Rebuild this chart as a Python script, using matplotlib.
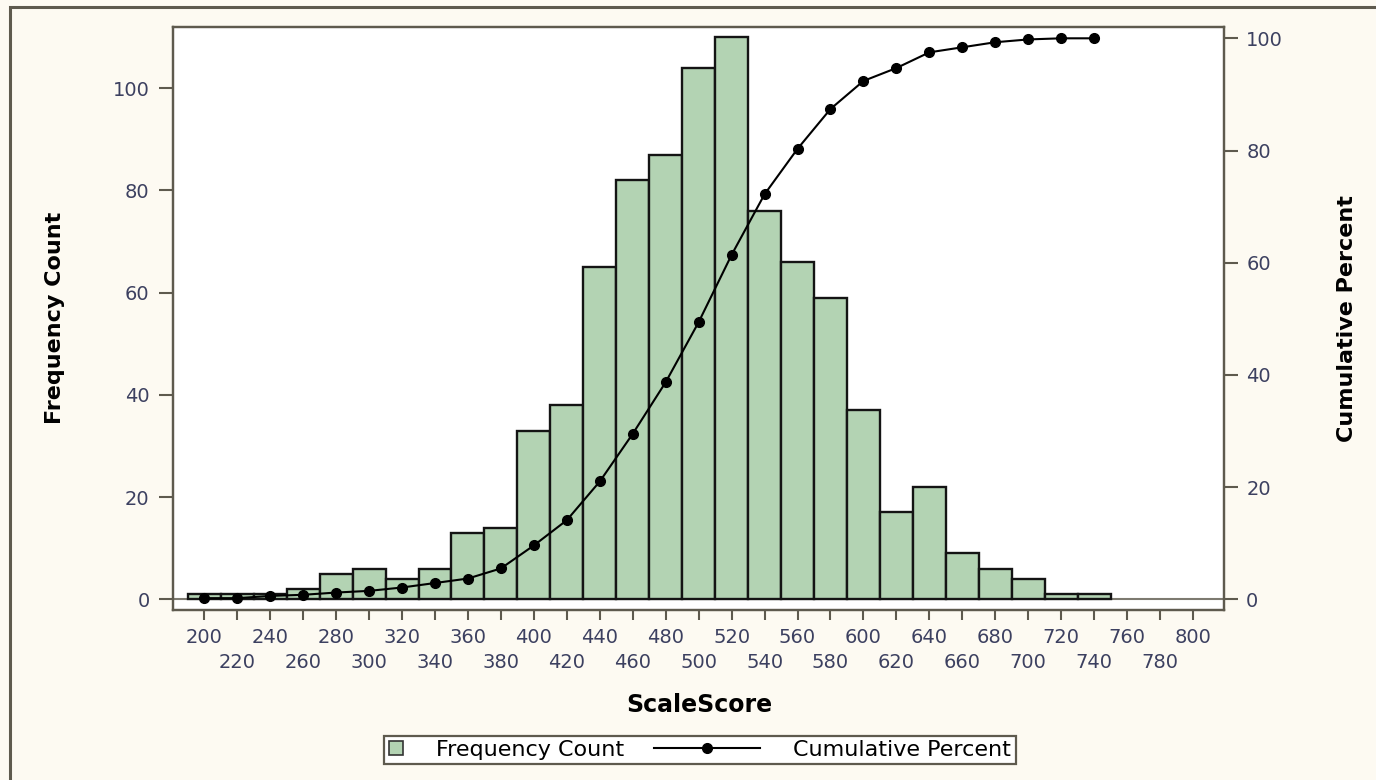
import matplotlib
matplotlib.use("Agg")
import matplotlib.pyplot as plt
from matplotlib.patches import Rectangle, Patch
from matplotlib.lines import Line2D
from matplotlib.legend_handler import HandlerBase, HandlerPatch

# bin centres of the histogram
scores = [200, 220, 240, 260, 280, 300, 320, 340, 360, 380, 400, 420, 440, 460,
          480, 500, 520, 540, 560, 580, 600, 620, 640, 660, 680, 700, 720, 740]
freq = [1, 1, 1, 2, 5, 6, 4, 6, 13, 14, 33, 38, 65, 82,
        87, 104, 110, 76, 66, 59, 37, 17, 22, 9, 6, 4, 1, 1]
cum_pct = [0.2, 0.2, 0.6, 0.8, 1.2, 1.5, 2.1, 2.9, 3.7, 5.5, 9.6, 14.1, 21.0, 29.5,
           38.7, 49.4, 61.4, 72.2, 80.3, 87.4, 92.4, 94.7, 97.5, 98.4, 99.3, 99.8, 100.0, 100.0]
# tick labels sit on two staggered rows
x_ticks_top = [200, 240, 280, 320, 360, 400, 440, 480, 520, 560, 600, 640, 680, 720, 760, 800]
x_ticks_low = [220, 260, 300, 340, 380, 420, 460, 500, 540, 580, 620, 660, 700, 740, 780]
y_ticks = [0, 20, 40, 60, 80, 100]

bg = "#fdfaf2"
axis_col = "#5e5a4e"
tick_txt = "#3c4060"
bar_col = "#b3d3b3"

plt.rcParams["font.family"] = ["DejaVu Sans"]

fig = plt.figure(figsize=(13.76, 7.8), dpi=100, facecolor=bg)
ax = fig.add_axes([173.3 / 1376, 170 / 780, 1050.7 / 1376, 583.3 / 780])
ax2 = ax.twinx()

# outer frame, cut off at right and bottom like the screenshot
fig.patches.append(Rectangle((10 / 1376, -0.1), 1.5, 1.1 - 7 / 780, transform=fig.transFigure,
                             fill=False, edgecolor=axis_col, linewidth=2.2))

ax.axhline(0, color="#7d7a70", linewidth=1.5, zorder=0.5)
ax.bar(scores, freq, width=20, color=bar_col, edgecolor="#141414", linewidth=1.7, zorder=2)
ax2.plot(scores, cum_pct, color="black", linewidth=1.5, marker="o", markersize=7, zorder=3)

ax.set_xlim(181.2, 818.8)
ax.set_ylim(-2.09, 112.05)
ax2.set_ylim(-1.91, 102.07)

ax.set_xticks(x_ticks_top, [str(t) for t in x_ticks_top])
ax.set_xticks(x_ticks_low, [str(t) for t in x_ticks_low], minor=True)
ax.set_yticks(y_ticks)
ax2.set_yticks(y_ticks)

for a in (ax, ax2):
    for s in a.spines.values():
        s.set_color(axis_col)
        s.set_linewidth(1.6)
    a.tick_params(colors=axis_col, labelcolor=tick_txt, labelsize=14, width=1.5)
ax.tick_params(axis="x", which="major", length=7, pad=6)
ax.tick_params(axis="x", which="minor", length=7, pad=24, width=1.5,
               colors=axis_col, labelcolor=tick_txt, labelsize=14)
ax.tick_params(axis="y", length=10, pad=7)
ax2.tick_params(axis="y", length=10, pad=6)

ax.set_xlabel("ScaleScore", fontsize=17, fontweight="bold")
ax.xaxis.set_label_coords(0.501, -0.142)
ax.set_ylabel("Frequency Count", fontsize=16, fontweight="bold", va="center")
ax.yaxis.set_label_coords(-0.1126, 0.5)
ax2.set_ylabel("Cumulative Percent", fontsize=16, fontweight="bold", va="center")
ax2.yaxis.set_label_coords(1.1171, 0.5)


class LongLine(HandlerBase):
    # line + dot handle that reaches to the left of its (small) handle box
    def create_artists(self, legend, orig_handle, xdescent, ydescent, width, height, fontsize, trans):
        y = (height - ydescent) / 2
        x1 = width - xdescent
        x0 = x1 - 76
        ln = Line2D([x0, x1], [y, y], color="black", linewidth=1.5, transform=trans)
        dot = Line2D([(x0 + x1) / 2], [y], marker="o", markersize=7, color="black", transform=trans)
        return [ln, dot]


bar_handle = Patch(facecolor=bar_col, edgecolor="#333333", linewidth=1.2)
line_handle = Line2D([], [], color="black", marker="o")
leg = fig.legend([bar_handle, line_handle], ["Frequency Count", "Cumulative Percent"],
                 loc="center", bbox_to_anchor=(700 / 1376, 30 / 780), ncol=2,
                 fontsize=16, frameon=True, fancybox=False, framealpha=1,
                 facecolor="white", edgecolor=axis_col, borderpad=0.2,
                 handlelength=0.62, handleheight=0.62, handletextpad=1.5,
                 columnspacing=5.5,
                 handler_map={Line2D: LongLine(), Patch: HandlerPatch()})
leg.get_frame().set_linewidth(1.6)

fig.savefig("out.png", dpi=100, facecolor=bg)
